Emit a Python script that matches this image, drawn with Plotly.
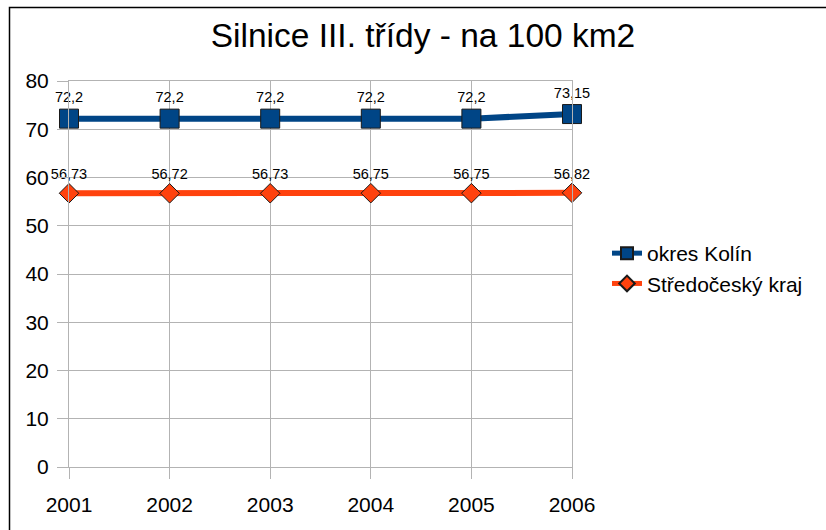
import plotly.graph_objects as go

years = [2001, 2002, 2003, 2004, 2005, 2006]
kolin = [72.2, 72.2, 72.2, 72.2, 72.2, 73.15]
stredocesky = [56.73, 56.72, 56.73, 56.75, 56.75, 56.82]
kolin_labels = ["72,2", "72,2", "72,2", "72,2", "72,2", "73,15"]
stredo_labels = ["56,73", "56,72", "56,73", "56,75", "56,75", "56,82"]
y_ticks = [0, 10, 20, 30, 40, 50, 60, 70, 80]

W, H = 826, 530
L, R, T, B = 69, 254, 81, 63
pw, ph = W - L - R, H - T - B

font = "Liberation Sans, Arial, sans-serif"

fig = go.Figure()
fig.add_trace(go.Scatter(
    x=years, y=kolin, name="okres Kolín", mode="lines+markers+text",
    line=dict(color="#004586", width=6),
    marker=dict(symbol="square", size=19, color="#004586", line=dict(color="#1a1a1a", width=1)),
    text=kolin_labels, textposition="top center",
    textfont=dict(family=font, size=14.5, color="#000000"),
    cliponaxis=False,
))
fig.add_trace(go.Scatter(
    x=years, y=stredocesky, name="Středočeský kraj", mode="lines+markers+text",
    line=dict(color="#ff420e", width=6),
    marker=dict(symbol="diamond", size=15, color="#ff420e", line=dict(color="#1a1a1a", width=1)),
    text=stredo_labels, textposition="top center",
    textfont=dict(family=font, size=14.5, color="#000000"),
    cliponaxis=False,
))

# outer frame
fx0 = (9.5 - L) / pw
fx1 = (W + 5 - L) / pw
fy1 = (H - B - 7.5) / ph
fy0 = (H - B - (H + 5)) / ph
fig.add_shape(type="rect", xref="paper", yref="paper", x0=fx0, x1=fx1, y0=fy0, y1=fy1,
              line=dict(color="#000000", width=1.5), layer="below")

fig.update_layout(
    width=W, height=H,
    margin=dict(l=L, r=R, t=T, b=B, autoexpand=False),
    paper_bgcolor="white", plot_bgcolor="white",
    font=dict(family=font, color="#000000"),
    title=dict(text="Silnice III. třídy - na 100 km2", x=(423 - L) / pw, xref="paper", xanchor="center",
               y=1 - 35 / H, yanchor="middle", font=dict(size=33.5, family=font, color="#000000")),
    showlegend=True,
    legend=dict(x=(607 - L) / pw, y=(H - B - 233) / ph, xanchor="left", yanchor="top",
                itemwidth=30, itemsizing="constant",
                font=dict(size=21, family=font, color="#000000"), bgcolor="rgba(0,0,0,0)"),
    xaxis=dict(range=[2001, 2006], tickvals=years, ticktext=[str(y) for y in years],
               showgrid=True, gridcolor="#b3b3b3", gridwidth=1, zeroline=False,
               ticks="outside", ticklen=11, tickcolor="#b3b3b3", tickwidth=1,
               ticklabelstandoff=8,
               showline=True, linecolor="#b3b3b3", linewidth=1, mirror=True,
               tickfont=dict(size=21, family=font, color="#000000")),
    yaxis=dict(range=[0, 80], tickvals=y_ticks,
               showgrid=True, gridcolor="#b3b3b3", gridwidth=1, zeroline=False,
               ticks="outside", ticklen=11, tickcolor="#b3b3b3", tickwidth=1,
               ticklabelstandoff=4,
               showline=True, linecolor="#b3b3b3", linewidth=1, mirror=True,
               tickfont=dict(size=21, family=font, color="#000000")),
)

fig.write_html("out.html", config={"displayModeBar": False},
               post_script="document.body.style.margin='0';document.body.style.overflow='hidden';")
